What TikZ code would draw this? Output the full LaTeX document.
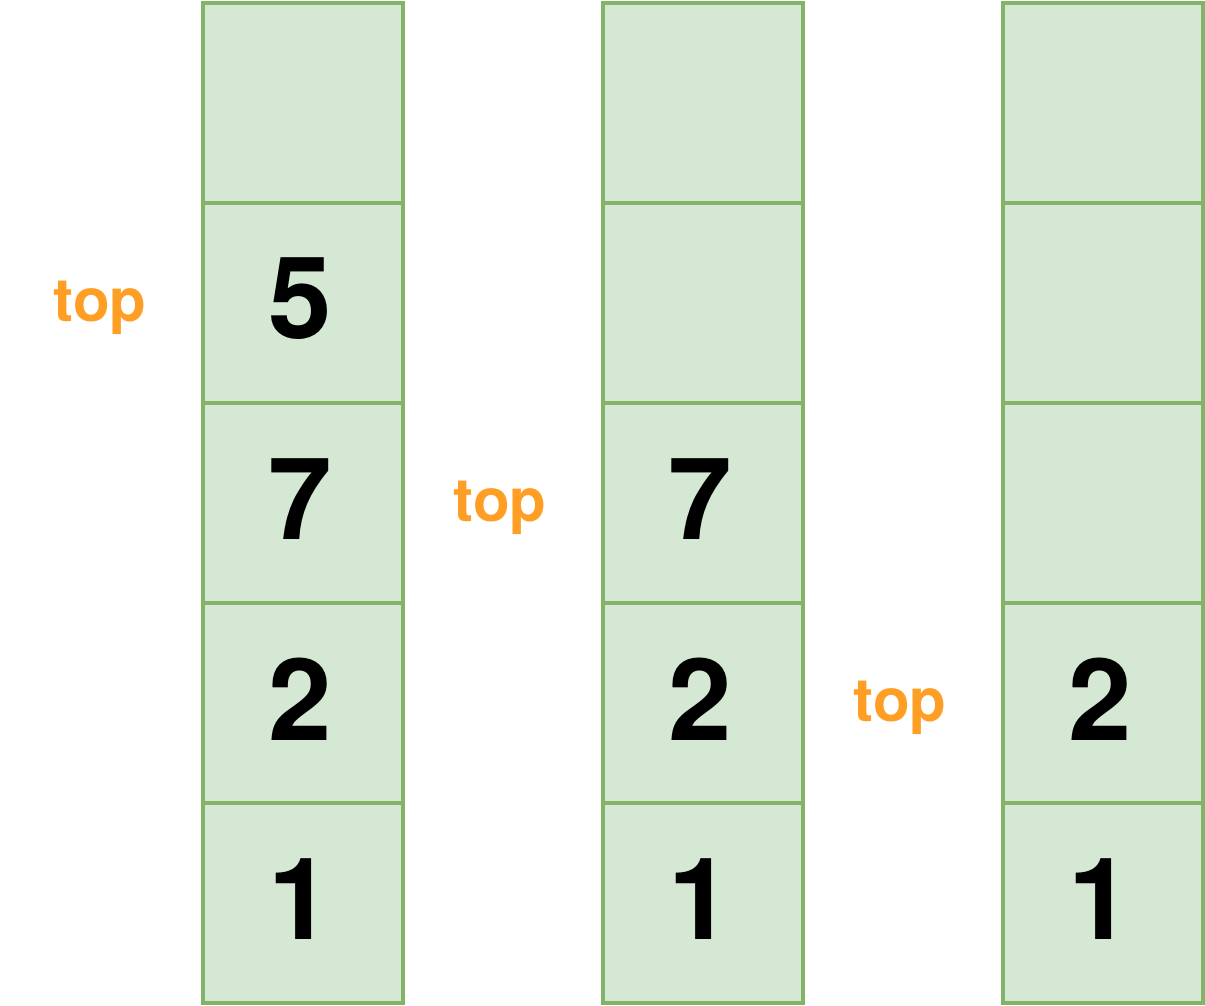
\documentclass[tikz,border=0pt]{standalone}
\usepackage{fontspec}
\setmainfont{TeX Gyre Heros}
\definecolor{cellfill}{HTML}{D5E8D4}
\definecolor{cellline}{HTML}{82B366}
\definecolor{toporange}{HTML}{FF9E24}
\begin{document}
\begin{tikzpicture}[x=1pt,y=-1pt,
  cell/.style={draw=cellline,fill=cellfill,line width=4pt,minimum width=200pt,minimum height=200pt,inner sep=0pt,text=black},
  digit/.style={inner sep=0pt,text=black,font=\fontsize{114}{114}\selectfont\bfseries},
  toplabel/.style={inner sep=0pt,text=toporange,font=\fontsize{60}{60}\selectfont\bfseries}]
\useasboundingbox (0,0) rectangle (1205,1005);
% column 1
\node[cell] (a1) at (303,103) {};
\node[cell] (a2) at (303,303) {};
\node[cell] (a3) at (303,503) {};
\node[cell] (a4) at (303,703) {};
\node[cell] (a5) at (303,903) {};
% column 2
\node[cell] (b1) at (703,103) {};
\node[cell] (b2) at (703,303) {};
\node[cell] (b3) at (703,503) {};
\node[cell] (b4) at (703,703) {};
\node[cell] (b5) at (703,903) {};
% column 3
\node[cell] (c1) at (1103,103) {};
\node[cell] (c2) at (1103,303) {};
\node[cell] (c3) at (1103,503) {};
\node[cell] (c4) at (1103,703) {};
\node[cell] (c5) at (1103,903) {};
% digits
\node[digit] (d5) at ([xshift=-3pt,yshift=4pt]a2.center) {5};
\node[digit] (d7a) at ([xshift=-3pt,yshift=4pt]a3.center) {7};
\node[digit] (d2a) at ([xshift=-3pt,yshift=4pt]a4.center) {2};
\node[digit] (d1a) at ([xshift=-3pt,yshift=4pt]a5.center) {1};
\node[digit] (d7b) at ([xshift=-3pt,yshift=4pt]b3.center) {7};
\node[digit] (d2b) at ([xshift=-3pt,yshift=4pt]b4.center) {2};
\node[digit] (d1b) at ([xshift=-3pt,yshift=4pt]b5.center) {1};
\node[digit] (d2c) at ([xshift=-3pt,yshift=4pt]c4.center) {2};
\node[digit] (d1c) at ([xshift=-3pt,yshift=4pt]c5.center) {1};
% labels
\node[toplabel] (t1) at (100,308) {top};
\node[toplabel] (t2) at (500,508) {top};
\node[toplabel] (t3) at (900,708) {top};
\end{tikzpicture}
\end{document}
